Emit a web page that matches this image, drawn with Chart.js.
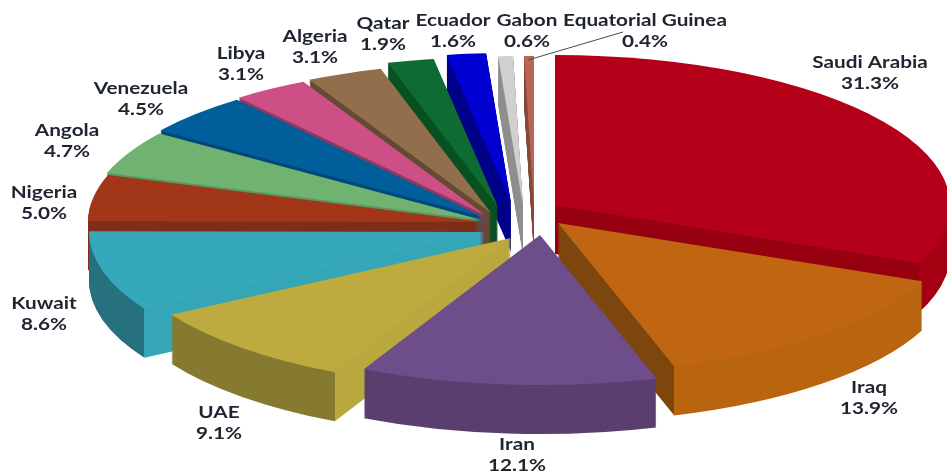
<!DOCTYPE html>
<html>
<head>
<meta charset="utf-8">
<script src="https://cdn.jsdelivr.net/npm/chart.js@4/dist/chart.umd.js"></script>
<style>
  html, body { margin: 0; padding: 0; background: #fff; overflow: hidden; }
  canvas { display: block; }
</style>
</head>
<body>
<canvas id="pie" width="947" height="474"></canvas>
<script>
const countries = ['Saudi Arabia', 'Iraq', 'Iran', 'UAE', 'Kuwait', 'Nigeria', 'Angola', 'Venezuela', 'Libya', 'Algeria', 'Qatar', 'Ecuador', 'Gabon', 'Equatorial Guinea'];
const shares = [31.3, 13.9, 12.1, 9.1, 8.6, 5.0, 4.7, 4.5, 3.1, 3.1, 1.9, 1.6, 0.6, 0.4];

const topColors = ['#B5001A', '#C06612', '#6D4D8A', '#BDAB3F', '#35A9BA', '#A23619', '#70B26F', '#005E9B', '#CC4F85', '#936E4C', '#0E6B32', '#0000D0', '#D0D0D0', '#B96654'];
const frontColors = ['#A50012', '#B96510', '#5B3E70', '#857A2F', '#27717F', '#7E2D17', '#5C9560', '#00487A', '#8E3A60', '#624A33', '#07501F', '#000088', '#8E8E8E', '#84483A'];
const sideColors = ['#97000F', '#7D460E', '#5B3E70', '#B8A83E', '#34A6B6', '#7E2D17', '#5C9560', '#00487A', '#8E3A60', '#624A33', '#07501F', '#000088', '#8E8E8E', '#84483A'];

/* fake 3D: hub of the pie, vertical squash, wall height */
const hubX = 483, hubY = 226, squash = 0.38, depth = 49, radius = 395;
/* how far each slice is pulled out of the pie, x and y */
const pullX = [72, 75, 57, 28, 1, 0, -1, 0, 2, 8, 15, 28, 40, 51];
const pullY = [-21, -3, 9, 12, 6, -4, -6, -9, -11, -13, -19, -23, -20, -20];
/* text centres, first line */
const labelX = [870, 869, 517, 219, 44, 44, 67, 141, 241, 315, 383, 453, 527, 645];
const labelY = [63, 388, 445, 413, 304, 193, 131, 89, 54, 37, 24, 21, 21, 21];
const textStretch = 1.22;

function paintArc(ctx, arc, i, lift) {
  ctx.save();
  ctx.translate(hubX + pullX[i], hubY + pullY[i] + lift);
  ctx.scale(1, squash);
  ctx.translate(-arc.x, -arc.y);
  arc.draw(ctx);
  ctx.restore();
}

function wideText(ctx, text, x, y) {
  ctx.save();
  ctx.translate(x, y);
  ctx.scale(textStretch, 1);
  ctx.fillText(text, 0, 0);
  ctx.restore();
}

const pie3d = {
  id: 'pie3d',
  beforeDatasetsDraw(chart) {
    const ctx = chart.ctx;
    const arcs = chart.getDatasetMeta(0).data;
    /* back slices first */
    const order = arcs.map((a, i) => i).sort((p, q) =>
      Math.sin((arcs[p].startAngle + arcs[p].endAngle) / 2) - Math.sin((arcs[q].startAngle + arcs[q].endAngle) / 2));
    order.forEach(i => {
      const arc = arcs[i];
      const own = arc.options;
      /* wall colour changes where the radial face meets the rim */
      const rightHalf = Math.cos(arc.endAngle) > 0;
      const corner = (1 + Math.cos(rightHalf ? arc.endAngle : arc.startAngle)) / 2;
      const g = ctx.createLinearGradient(arc.x - radius, 0, arc.x + radius, 0);
      if (rightHalf) {
        g.addColorStop(0, sideColors[i]);
        g.addColorStop(corner, sideColors[i]);
        g.addColorStop(corner, frontColors[i]);
        g.addColorStop(1, frontColors[i]);
      } else {
        g.addColorStop(0, frontColors[i]);
        g.addColorStop(corner, frontColors[i]);
        g.addColorStop(corner, sideColors[i]);
        g.addColorStop(1, sideColors[i]);
      }
      arc.options = { backgroundColor: g, borderColor: 'transparent', borderWidth: 0, borderAlign: 'center', borderJoinStyle: 'round', borderDash: [], borderDashOffset: 0, offset: 0, spacing: 0, circular: true };
      for (let d = depth; d > 0; d -= 1) paintArc(ctx, arc, i, d);
      arc.options = own;
      paintArc(ctx, arc, i, 0);
    });
    return false;
  },
  afterDraw(chart) {
    const ctx = chart.ctx;
    ctx.save();
    /* leader of the smallest slice */
    ctx.strokeStyle = '#4a4a4a';
    ctx.lineWidth = 1;
    ctx.beginPath();
    ctx.moveTo(623, 32);
    ctx.lineTo(528, 60);
    ctx.stroke();
    ctx.fillStyle = '#1E2430';
    ctx.font = 'bold 17px Lato';
    ctx.textAlign = 'center';
    ctx.textBaseline = 'middle';
    countries.forEach((name, i) => {
      wideText(ctx, name, labelX[i], labelY[i]);
      wideText(ctx, shares[i].toFixed(1) + '%', labelX[i], labelY[i] + 21);
    });
    ctx.restore();
  }
};

new Chart(document.getElementById('pie').getContext('2d'), {
  type: 'pie',
  data: {
    labels: countries,
    datasets: [{ data: shares, backgroundColor: topColors, borderWidth: 0 }]
  },
  options: {
    responsive: false,
    animation: false,
    radius: radius,
    layout: { padding: 0 },
    plugins: { legend: { display: false }, tooltip: { enabled: false } }
  },
  plugins: [pie3d]
});
</script>
</body>
</html>
